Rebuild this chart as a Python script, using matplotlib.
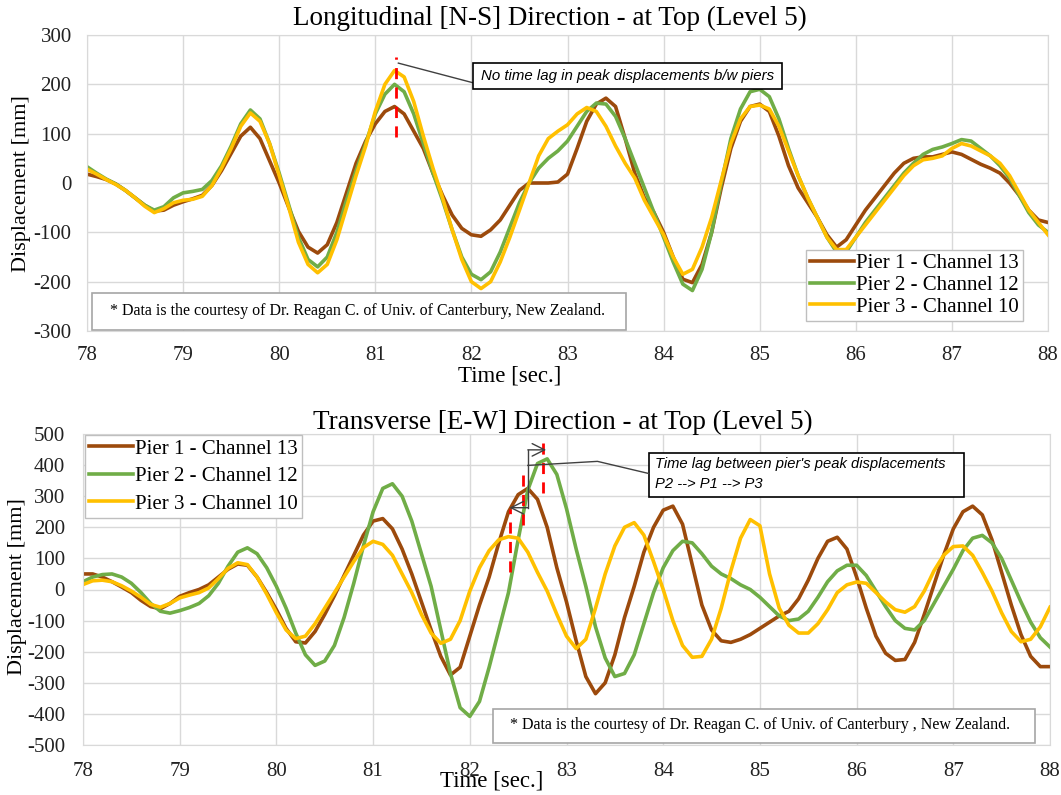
import numpy as np
import matplotlib.pyplot as plt
from matplotlib.patches import Rectangle

plt.rcParams['font.family'] = ['Liberation Serif', 'DejaVu Serif']
plt.rcParams['axes.unicode_minus'] = False

# time axis, 0.1 s steps
t = np.round(np.arange(78.0, 88.01, 0.1), 1)

# Longitudinal [N-S] displacement at top, mm
ns_p1 = [18, 13, 7, -2, -15, -30, -45, -57, -55, -45,
         -38, -32, -25, -5, 25, 60, 95, 113, 90, 45,
         0, -50, -98, -130, -142, -125, -80, -20, 40, 85,
         120, 145, 155, 140, 105, 70, 20, -25, -65, -92,
         -105, -108, -95, -75, -45, -15, 0, 0, 0, 2,
         18, 70, 125, 160, 172, 155, 90, 20, -30, -60,
         -100, -150, -195, -202, -165, -100, -10, 70, 125, 155,
         160, 145, 95, 35, -10, -40, -70, -105, -130, -115,
         -85, -55, -30, -5, 20, 40, 50, 53, 53, 58,
         63, 58, 48, 38, 30, 20, 0, -25, -55, -75,
         -80]
ns_p2 = [33, 20, 8, -2, -15, -30, -45, -55, -48, -30,
         -20, -17, -13, 5, 35, 75, 120, 148, 130, 80,
         20, -45, -110, -155, -170, -150, -100, -35, 25, 80,
         140, 180, 200, 185, 140, 80, 20, -35, -95, -150,
         -185, -196, -180, -140, -90, -40, 0, 30, 50, 65,
         85, 115, 145, 162, 160, 135, 90, 40, -10, -60,
         -110, -160, -205, -218, -175, -100, 0, 90, 150, 185,
         190, 175, 130, 70, 15, -30, -70, -110, -140, -140,
         -110, -80, -55, -30, -5, 20, 40, 58, 68, 73,
         80, 88, 85, 70, 55, 35, 10, -25, -60, -85,
         -100]
ns_p3 = [28, 18, 7, -3, -15, -30, -47, -60, -52, -40,
         -35, -33, -27, -5, 30, 70, 115, 142, 125, 80,
         15, -50, -120, -165, -182, -165, -115, -50, 15, 75,
         145, 200, 228, 215, 165, 95, 30, -30, -95, -155,
         -200, -214, -200, -160, -110, -55, 0, 55, 90, 105,
         118, 140, 153, 145, 115, 75, 40, 10, -35, -70,
         -105, -150, -185, -175, -130, -70, 5, 80, 130, 155,
         158, 150, 115, 65, 15, -30, -70, -110, -135, -135,
         -110, -85, -60, -35, -10, 15, 35, 47, 50, 55,
         70, 80, 75, 65, 55, 40, 15, -20, -55, -80,
         -105]

# Transverse [E-W] displacement at top, mm
ew_p1 = [50, 50, 40, 25, 8, -10, -35, -55, -62, -45,
         -22, -10, 0, 15, 40, 65, 82, 78, 40, -10,
         -65, -125, -168, -172, -135, -80, -20, 45, 110, 175,
         220, 228, 195, 130, 50, -40, -130, -215, -275, -250,
         -150, -50, 40, 150, 250, 305, 325, 290, 200, 70,
         -40, -165, -280, -335, -300, -210, -90, 10, 120, 200,
         255, 268, 210, 80, -50, -130, -165, -170, -160, -145,
         -125, -105, -85, -70, -30, 30, 100, 155, 168, 130,
         40, -60, -150, -205, -228, -225, -170, -80, 15, 110,
         195, 250, 268, 240, 160, 55, -50, -145, -215, -248,
         -248]
ew_p2 = [25, 40, 48, 50, 40, 20, -10, -45, -70, -76,
         -68, -58, -45, -20, 20, 75, 120, 134, 115, 70,
         10, -60, -140, -210, -244, -230, -180, -90, 20, 140,
         250, 325, 340, 300, 220, 115, 10, -130, -270, -380,
         -408, -360, -250, -130, -10, 160, 320, 405, 420, 370,
         260, 130, 10, -120, -220, -280, -270, -210, -110, -10,
         70, 125, 155, 150, 115, 75, 50, 35, 15, 0,
         -25, -55, -85, -100, -95, -70, -25, 25, 60, 78,
         78, 45, -5, -55, -100, -125, -130, -100, -45, 10,
         65, 125, 165, 174, 150, 100, 30, -40, -105, -155,
         -185]
ew_p3 = [16, 28, 30, 25, 12, -5, -25, -48, -57, -45,
         -27, -18, -10, 5, 35, 68, 86, 80, 40, -15,
         -75, -130, -158, -150, -110, -60, -10, 40, 90, 135,
         155, 145, 110, 50, -10, -80, -140, -173, -160, -100,
         -5, 70, 125, 160, 170, 165, 120, 55, -5, -80,
         -150, -190, -160, -60, 50, 140, 200, 215, 175, 90,
         0, -100, -180, -218, -215, -160, -60, 60, 165, 225,
         205, 50, -60, -115, -140, -140, -110, -65, -10, 15,
         24, 20, -10, -40, -65, -73, -55, -5, 60, 110,
         138, 140, 110, 55, -5, -75, -135, -168, -160, -120,
         -57]

labels = ['Pier 1 - Channel 13', 'Pier 2 - Channel 12', 'Pier 3 - Channel 10']
colors = ['#9C4A0C', '#70AD47', '#FFC000']
note = '* Data is the courtesy of Dr. Reagan C. of Univ. of Canterbury{} New Zealand.'
callout_font = ['Liberation Sans Narrow', 'Liberation Sans', 'DejaVu Sans']

fig = plt.figure(figsize=(10.61, 7.95), dpi=100)
ax1 = fig.add_axes([87 / 1061, 1 - 331 / 795, 961 / 1061, 296 / 795])
ax2 = fig.add_axes([83 / 1061, 1 - 745 / 795, 967 / 1061, 311 / 795])


def style(ax, lim, step, xpad, ypad):
    ax.set_xlim(78, 88)
    ax.set_ylim(-lim, lim)
    ax.set_xticks(range(78, 89))
    ax.set_yticks(np.arange(-lim, lim + 1, step))
    ax.grid(True, color='#d9d9d9', lw=1)
    ax.set_axisbelow(True)
    for s in ax.spines.values():
        s.set_color('#d9d9d9')
    ax.tick_params(length=0, labelsize=15, colors='#222222')
    ax.tick_params(axis='x', pad=xpad)
    ax.tick_params(axis='y', pad=ypad)


style(ax1, 300, 100, 11, 11)
style(ax2, 500, 100, 12, 13)

for ser, c, lab in zip([ns_p1, ns_p2, ns_p3], colors, labels):
    ax1.plot(t, ser, color=c, lw=2.6, label=lab, solid_joinstyle='round')
for ser, c, lab in zip([ew_p1, ew_p2, ew_p3], colors, labels):
    ax2.plot(t, ser, color=c, lw=2.6, label=lab, solid_joinstyle='round')

leg_kw = dict(fontsize=15, handlelength=2.1, handletextpad=0.1, borderpad=0.2,
              fancybox=False, framealpha=1, borderaxespad=0)
lg1 = ax1.legend(loc='lower right', bbox_to_anchor=(0.974, 0.034), labelspacing=0.1, **leg_kw)
lg1.get_frame().set_edgecolor('#bfbfbf')
lg2 = ax2.legend(loc='upper left', bbox_to_anchor=(0.002, 0.997), labelspacing=0.38, **leg_kw)
lg2.get_frame().set_edgecolor('#bfbfbf')

# footnote boxes
ax1.add_patch(Rectangle((78.05, -298), 5.56, 75, fc='white', ec='#a6a6a6', lw=1.2, zorder=4))
ax1.text(78.24, -260, note.format(','), fontsize=11.5, va='center', zorder=5)
ax2.add_patch(Rectangle((82.24, -492), 5.6, 109, fc='white', ec='#a6a6a6', lw=1.2, zorder=4))
ax2.text(82.42, -437, note.format(' ,'), fontsize=11.5, va='center', zorder=5)

# N-S callout
ax1.plot([81.22, 81.22], [93, 256], color='red', lw=2, ls=(0, (4, 3)), zorder=6)
ax1.plot([81.24, 82.02], [243, 203], color='#404040', lw=1, zorder=6)
ax1.add_patch(Rectangle((82.02, 190), 3.21, 54, fc='white', ec='black', lw=1.2, zorder=6))
ax1.text(82.1, 217, 'No time lag in peak displacements b/w piers', family=callout_font,
         style='italic', fontsize=10.8, va='center', zorder=7)

# E-W callout
for x0, y0, y1 in [(82.42, 55, 260), (82.55, 206, 376), (82.76, 309, 479)]:
    ax2.plot([x0, x0], [y0, y1], color='red', lw=2, ls=(0, (4, 3)), zorder=6)
head = '->,head_length=0.9,head_width=0.45'
ax2.plot([82.60, 82.60], [263, 449], color='#404040', lw=1, zorder=7)
ax2.annotate('', xy=(82.79, 449), xytext=(82.60, 449),
             arrowprops=dict(arrowstyle=head, color='#404040', lw=1, shrinkA=0, shrinkB=0),
             zorder=7)
ax2.annotate('', xy=(82.41, 263), xytext=(82.60, 263),
             arrowprops=dict(arrowstyle=head, color='#404040', lw=1, shrinkA=0, shrinkB=0),
             zorder=7)
ax2.plot([82.60, 83.32, 83.85], [399, 412, 373], color='#404040', lw=1, zorder=7)
ax2.add_patch(Rectangle((83.85, 299), 3.26, 139, fc='white', ec='black', lw=1.2, zorder=6))
ax2.text(83.92, 405, "Time lag between pier's peak displacements", family=callout_font,
         style='italic', fontsize=10.6, va='center', zorder=7)
ax2.text(83.92, 340, 'P2 --> P1 --> P3', family=callout_font,
         style='italic', fontsize=10.6, va='center', zorder=7)

# titles and axis labels
fig.text(550 / 1061, 1 - 18 / 795, 'Longitudinal [N-S] Direction - at Top (Level 5)',
         fontsize=19.5, ha='center', va='center')
fig.text(563 / 1061, 1 - 422 / 795, 'Transverse [E-W] Direction - at Top (Level 5)',
         fontsize=19.5, ha='center', va='center')
fig.text(510 / 1061, 1 - 376 / 795, 'Time [sec.]', fontsize=16.5, ha='center', va='center')
fig.text(492 / 1061, 1 - 781 / 795, 'Time [sec.]', fontsize=16.5, ha='center', va='center')
fig.text(22 / 1061, 1 - 184 / 795, 'Displacement [mm]', fontsize=16, rotation=90,
         ha='center', va='center')
fig.text(18 / 1061, 1 - 587 / 795, 'Displacement [mm]', fontsize=16, rotation=90,
         ha='center', va='center')

fig.savefig('out.png', dpi=100)
